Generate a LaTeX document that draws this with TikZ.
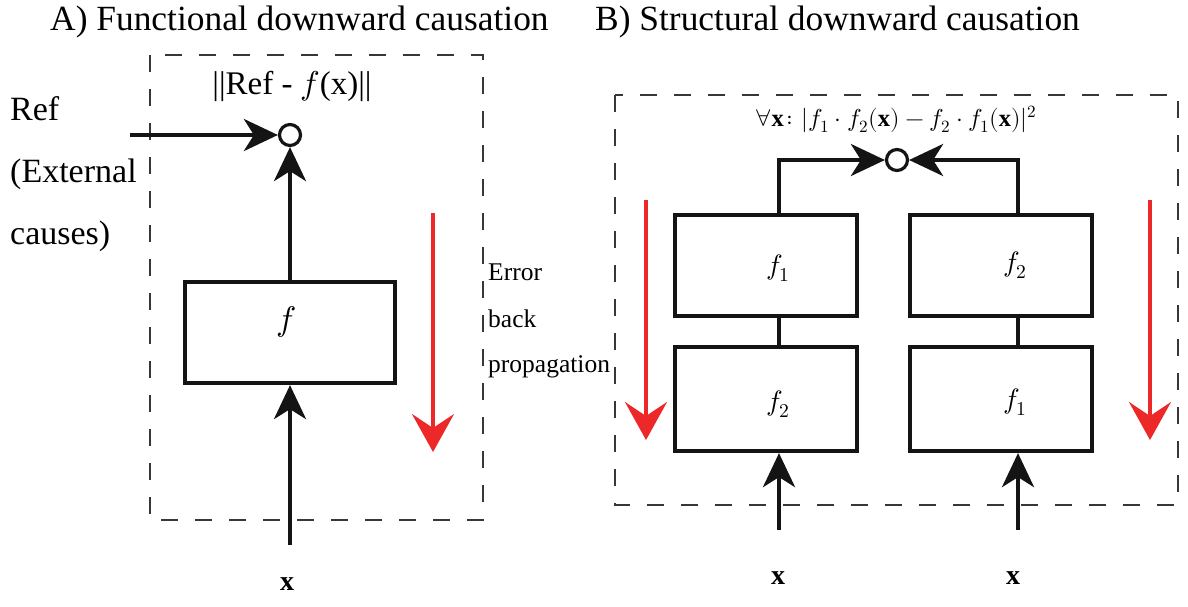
\documentclass[tikz,border=0pt]{standalone}
\usepackage{fontspec}
\usepackage{unicode-math}
\setmainfont{Liberation Serif}
\setmathfont{Latin Modern Math}
\usetikzlibrary{arrows.meta}
\definecolor{myred}{RGB}{237,40,40}
\definecolor{dashgray}{RGB}{55,55,55}
\begin{document}
\begin{tikzpicture}[x=1pt,y=-1pt,
  wire/.style={line width=4.2pt, draw=black!92},
  arr/.style={wire, -{Stealth[length=34pt, width=32pt, inset=10pt]}},
  redarr/.style={line width=4pt, draw=myred, -{Stealth[length=38pt, width=42pt, inset=14pt]}},
  dbox/.style={draw=dashgray, line width=1.5pt, dash pattern=on 17pt off 17pt},
  fbox/.style={draw=black!92, line width=4.2pt, inner sep=0pt},
  flbl/.style={inner sep=0pt, font=\fontsize{28}{30}\selectfont},
  sum/.style={circle, draw=black!92, line width=3.2pt, minimum size=21pt, inner sep=0pt},
  lbl/.style={inner sep=0pt, anchor=base west}
]
\useasboundingbox (0,0) rectangle (1188,606);

% ---------------- Panel A ----------------
\node[lbl, font=\fontsize{35.4}{38}\selectfont] (titleA) at (50,30) {A) Functional downward causation};
\draw[dbox] (150,55) rectangle (483,520);
\node[inner sep=0pt, font=\fontsize{33}{35}\selectfont] (formA) at (292,86) {||Ref - $f$(x)||};
\node[sum] (cA) at (290,135) {};
\node[fbox, minimum width=210pt, minimum height=101pt] (boxA) at (290,332.5) {};
\node[flbl, font=\fontsize{34}{36}\selectfont] (fA) at (286,322) {$f$};
\node[lbl, font=\fontsize{34}{36}\selectfont] (ref1) at (10,120) {Ref};
\node[lbl, font=\fontsize{34}{36}\selectfont] (ref2) at (10,182) {(External};
\node[lbl, font=\fontsize{34}{36}\selectfont] (ref3) at (10,244) {causes)};
\coordinate (refin) at (130,135);
\draw[arr] (refin) -- (cA.west);
\draw[arr] (boxA.north) -- (cA.south);
\coordinate (xinA) at (290,545);
\draw[arr] (xinA) -- (boxA.south);
\node[font=\fontsize{28}{30}\selectfont\bfseries] (xA) at (287,584) {x};
\coordinate (rA1) at (433,213);
\coordinate (rA2) at (433,452);
\draw[redarr] (rA1) -- (rA2);
\node[lbl, font=\fontsize{25.5}{27}\selectfont] (err1) at (488,280) {Error};
\node[lbl, font=\fontsize{25.5}{27}\selectfont] (err2) at (488,327) {back};
\node[lbl, font=\fontsize{25.5}{27}\selectfont] (err3) at (488,372) {propagation};

% ---------------- Panel B ----------------
\node[lbl, font=\fontsize{35.4}{38}\selectfont] (titleB) at (595,30) {B) Structural downward causation};
\draw[dbox] (615,95) rectangle (1178,505);
\node[inner sep=0pt, font=\fontsize{24.5}{26}\selectfont] (formB) at (896,119)
  {$\forall\mathbf{x}\colon|f_1\cdot f_2(\mathbf{x})-f_2\cdot f_1(\mathbf{x})|^2$};
\node[sum] (cB) at (897,160) {};
\node[fbox, minimum width=182pt, minimum height=101pt] (b11) at (766,265.5) {};
\node[fbox, minimum width=182pt, minimum height=104pt] (b12) at (766,399) {};
\node[fbox, minimum width=182pt, minimum height=101pt] (b21) at (1001,265.5) {};
\node[fbox, minimum width=182pt, minimum height=104pt] (b22) at (1001,399) {};
\node[flbl] (l11) at (778,268) {$f_1$};
\node[flbl] (l12) at (778,404) {$f_2$};
\node[flbl] (l21) at (1015,265) {$f_2$};
\node[flbl] (l22) at (1015,402) {$f_1$};
\draw[wire] (b11.south -| 779,0) -- (b12.north -| 779,0);
\draw[wire] (b21.south -| 1018,0) -- (b22.north -| 1018,0);
\draw[arr] (b11.north -| 779,0) |- (cB.west);
\draw[arr] (b21.north -| 1018,0) |- (cB.east);
\coordinate (xin1) at (779,530);
\coordinate (xin2) at (1018,530);
\draw[arr] (xin1) -- (b12.south -| xin1);
\draw[arr] (xin2) -- (b22.south -| xin2);
\node[font=\fontsize{28}{30}\selectfont\bfseries] (xB1) at (778,578) {x};
\node[font=\fontsize{28}{30}\selectfont\bfseries] (xB2) at (1013,578) {x};
\coordinate (rB1) at (646,200);
\coordinate (rB2) at (646,440);
\coordinate (rB3) at (1150,200);
\coordinate (rB4) at (1150,440);
\draw[redarr] (rB1) -- (rB2);
\draw[redarr] (rB3) -- (rB4);
\end{tikzpicture}
\end{document}
